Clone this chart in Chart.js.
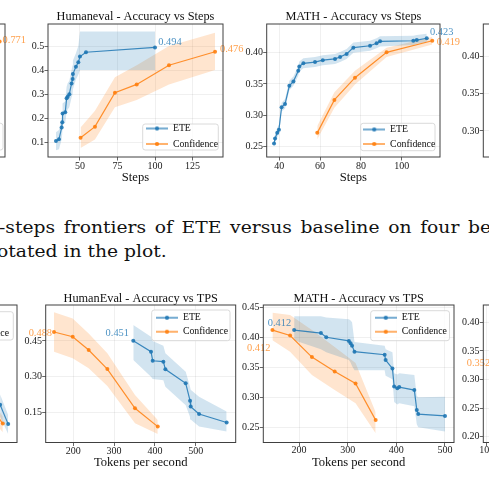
<!DOCTYPE html>
<html><head><meta charset="utf-8">
<script src="https://cdn.jsdelivr.net/npm/chart.js@4.4.1/dist/chart.umd.min.js"></script>
<style>
html,body{margin:0;padding:0;background:#fff;}
body{width:489px;height:490px;overflow:hidden;position:relative;}
canvas{position:absolute;}
.cap{position:absolute;left:0;font-family:'DejaVu Serif',serif;font-size:16px;line-height:16px;color:#111;white-space:nowrap;transform-origin:0 0;}
</style></head><body>
<div id="cap1" class="cap" style="left:-1px;top:219.8px">-steps frontiers of ETE versus baseline on four benchmarks</div>
<div id="cap2" class="cap" style="left:-3px;top:243.8px">otated in the plot.</div>
<script>
// ---------------- DATA ----------------
const seriesNames = ['ETE', 'Confidence'];

// Humaneval - Accuracy vs Steps
const heStepsTitle = 'Humaneval - Accuracy vs Steps';
const heStepsXTicks = [50, 75, 100, 125];
const heStepsYTicks = [0.1, 0.2, 0.3, 0.4, 0.5];
const heStepsEteX  = [34, 36, 37.8, 38.2, 38.4, 40.2, 41.1, 41.8, 42.9, 44.4, 45.1, 45.3, 47.3, 48.9, 50, 54, 100];
const heStepsEteY  = [0.104, 0.111, 0.160, 0.182, 0.219, 0.224, 0.282, 0.289, 0.299, 0.344, 0.362, 0.383, 0.414, 0.432, 0.456, 0.474, 0.494];
const heStepsEteLo = [0.066, 0.070, 0.110, 0.135, 0.170, 0.180, 0.225, 0.235, 0.245, 0.285, 0.300, 0.320, 0.360, 0.380, 0.400, 0.400, 0.400];
const heStepsEteHi = [0.140, 0.150, 0.200, 0.225, 0.260, 0.270, 0.330, 0.345, 0.355, 0.400, 0.420, 0.440, 0.470, 0.500, 0.560, 0.560, 0.560];
const heStepsConfX  = [50.4, 60, 73.3, 87.8, 109.3, 140];
const heStepsConfY  = [0.118, 0.164, 0.305, 0.340, 0.420, 0.476];
const heStepsConfLo = [0.075, 0.110, 0.245, 0.275, 0.340, 0.400];
const heStepsConfHi = [0.160, 0.230, 0.370, 0.420, 0.500, 0.555];

// MATH - Accuracy vs Steps
const mathStepsTitle = 'MATH - Accuracy vs Steps';
const mathStepsXTicks = [40, 60, 80, 100];
const mathStepsYTicks = [0.25, 0.30, 0.35, 0.40];
const mathStepsEteX  = [37.4, 37.9, 39.0, 39.8, 41.1, 42.8, 44.9, 46.9, 49.3, 49.8, 51.8, 57.5, 61.3, 67.3, 69.8, 73.0, 76.3, 84.5, 87.7, 89.4, 105.7, 107.4, 112.3];
const mathStepsEteY  = [0.255, 0.263, 0.272, 0.277, 0.313, 0.318, 0.347, 0.354, 0.371, 0.378, 0.383, 0.385, 0.388, 0.390, 0.393, 0.398, 0.408, 0.411, 0.415, 0.418, 0.419, 0.420, 0.423];
const mathStepsEteLo = [0.250, 0.257, 0.265, 0.270, 0.306, 0.311, 0.340, 0.347, 0.363, 0.370, 0.375, 0.377, 0.380, 0.382, 0.385, 0.390, 0.400, 0.403, 0.407, 0.410, 0.412, 0.414, 0.417];
const mathStepsEteHi = [0.261, 0.270, 0.280, 0.285, 0.320, 0.326, 0.355, 0.362, 0.379, 0.386, 0.391, 0.393, 0.396, 0.398, 0.401, 0.406, 0.416, 0.419, 0.423, 0.426, 0.427, 0.428, 0.430];
const mathStepsConfX  = [58.6, 67.0, 77.1, 92.6, 115.0];
const mathStepsConfY  = [0.272, 0.3245, 0.360, 0.4005, 0.419];
const mathStepsConfLo = [0.262, 0.312, 0.349, 0.393, 0.413];
const mathStepsConfHi = [0.283, 0.337, 0.371, 0.408, 0.425];

// HumanEval - Accuracy vs TPS
const heTpsTitle = 'HumanEval - Accuracy vs TPS';
const heTpsXTicks = [200, 300, 400, 500];
const heTpsYTicks = [0.15, 0.30, 0.45];
const heTpsEteX  = [347, 390.5, 394.6, 420.8, 425.7, 475.6, 486.2, 487.8, 508.3, 576];
const heTpsEteY  = [0.451, 0.405, 0.367, 0.363, 0.331, 0.272, 0.199, 0.174, 0.143, 0.107];
const heTpsEteLo = [0.370, 0.300, 0.290, 0.285, 0.258, 0.180, 0.130, 0.120, 0.090, 0.069];
const heTpsEteHi = [0.517, 0.468, 0.450, 0.430, 0.398, 0.321, 0.258, 0.245, 0.216, 0.153];
const heTpsConfX  = [152.6, 198.4, 237.6, 283.4, 351.2, 407];
const heTpsConfY  = [0.488, 0.468, 0.412, 0.332, 0.167, 0.090];
const heTpsConfLo = [0.405, 0.377, 0.335, 0.261, 0.104, 0.059];
const heTpsConfHi = [0.571, 0.545, 0.482, 0.398, 0.223, 0.118];

// MATH - Accuracy vs TPS
const mathTpsTitle = 'MATH - Accuracy vs TPS';
const mathTpsXTicks = [200, 300, 400, 500];
const mathTpsYTicks = [0.25, 0.30, 0.35, 0.40, 0.45];
const mathTpsEteX  = [190, 245, 256, 302.5, 306, 309, 314, 376, 378, 392, 395.5, 402, 406, 437, 442, 445, 500];
const mathTpsEteY  = [0.412, 0.407, 0.400, 0.394, 0.390, 0.386, 0.376, 0.371, 0.362, 0.348, 0.318, 0.315, 0.317, 0.312, 0.279, 0.272, 0.269];
const mathTpsEteLo = [0.395, 0.380, 0.375, 0.362, 0.358, 0.352, 0.345, 0.345, 0.336, 0.330, 0.292, 0.288, 0.290, 0.285, 0.255, 0.250, 0.243];
const mathTpsEteHi = [0.435, 0.435, 0.433, 0.430, 0.428, 0.425, 0.392, 0.386, 0.380, 0.375, 0.340, 0.338, 0.340, 0.337, 0.302, 0.300, 0.301];
const mathTpsConfX  = [145.4, 181.7, 226.5, 273.3, 316.2, 357.5];
const mathTpsConfY  = [0.412, 0.403, 0.367, 0.343, 0.323, 0.262];
const mathTpsConfLo = [0.395, 0.376, 0.337, 0.312, 0.290, 0.240];
const mathTpsConfHi = [0.441, 0.437, 0.412, 0.384, 0.357, 0.275];

// partly visible neighbouring panels (cut by the crop)
const leftStepsConfX = [146];
const leftStepsConfY = [0.771];
const leftTpsEteX  = [556, 577];
const leftTpsEteY  = [0.270, 0.157];
const leftTpsEteLo = [0.200, 0.100];
const leftTpsEteHi = [0.330, 0.210];
const leftTpsConfX  = [540, 563];
const leftTpsConfY  = [0.230, 0.160];
const leftTpsConfLo = [0.170, 0.110];
const leftTpsConfHi = [0.280, 0.200];
const rightStepsYTicks = [0.30, 0.35, 0.40];
const rightTpsXTicks = [100, 200, 300, 400, 500];
const rightTpsYTicks = [0.20, 0.25, 0.30, 0.35, 0.40];
const rightTpsConfX = [112];
const rightTpsConfY = [0.352];

// ---------------- STYLE / BUILD ----------------
const BLUE = '31,119,180', ORANGE = '255,127,14';
const FONT = "'Liberation Serif','Times New Roman',serif";
Chart.defaults.font.family = FONT;
Chart.defaults.color = '#222';
const TITLE_FS = 12.3, XL_FS = 12.6, TICK_FS = 10, LEG_FS = 9.8, LEG_BW = 22, ANN_FS = 10.4, TL = 3.5;

function legendImg(rgb) {
  const c = document.createElement('canvas'); c.width = LEG_BW; c.height = 6;
  const g = c.getContext('2d');
  g.strokeStyle = `rgba(${rgb},0.85)`; g.lineWidth = 1.3;
  g.beginPath(); g.moveTo(0, 3); g.lineTo(LEG_BW, 3); g.stroke();
  g.fillStyle = `rgba(${rgb},0.9)`; g.beginPath(); g.arc(LEG_BW / 2, 3, 2.1, 0, Math.PI * 2); g.fill();
  return c;
}
const legImgs = {ETE: legendImg(BLUE), Confidence: legendImg(ORANGE)};

const pts = (xs, ys) => xs.map((x, i) => ({x, y: ys[i]}));
function lineDs(label, rgb, data) {
  return {label, data, borderColor: `rgba(${rgb},0.85)`, backgroundColor: `rgba(${rgb},0.9)`,
    borderWidth: 1.2, pointRadius: 2, pointBorderWidth: 0, pointHoverRadius: 2, tension: 0, fill: false};
}
function bandDs(label, data, fill, rgb) {
  return {label, data, borderWidth: 0, pointRadius: 0, pointHoverRadius: 0, tension: 0, fill,
    borderColor: 'rgba(0,0,0,0)', backgroundColor: fill ? `rgba(${rgb},0.2)` : 'rgba(0,0,0,0)'};
}

function buildChart(cfg) {
  const b = cfg.box;
  const cl = Math.floor(b.l - 40);
  const padL = b.l - cl;
  const ct = Math.floor(cfg.title ? cfg.titleY - TITLE_FS / 2 - 1 : b.t - 20);
  const cbRaw = cfg.xlabel ? cfg.xlabelY + XL_FS / 2 + 1 : b.b + 24;
  const H = Math.ceil(cbRaw - ct);
  const W = Math.ceil(b.r - cl + 32);
  const padR = cl + W - b.r;
  const cb = ct + H;
  const padB = cb - b.b;
  const lpt = cfg.title ? (cfg.titleY - TITLE_FS / 2 - ct) : (b.t - ct);
  const titlePB = cfg.title ? (b.t - cfg.titleY - TITLE_FS / 2) : 0;

  const canvas = document.createElement('canvas');
  canvas.width = W; canvas.height = H;
  canvas.style.left = cl + 'px'; canvas.style.top = ct + 'px';
  canvas.style.width = W + 'px'; canvas.style.height = H + 'px';
  document.body.appendChild(canvas);

  const ser = {};
  const ds = [];
  if (cfg.ete) { ser.ETE = cfg.ete; ds.push(lineDs(seriesNames[0], BLUE, pts(cfg.ete.x, cfg.ete.y))); }
  if (cfg.conf) { ser.Confidence = cfg.conf; ds.push(lineDs(seriesNames[1], ORANGE, pts(cfg.conf.x, cfg.conf.y))); }
  if (cfg.ete && cfg.ete.lo) {
    ds.push(bandDs('band', pts(cfg.ete.x, cfg.ete.lo), false, BLUE));
    ds.push(bandDs('band', pts(cfg.ete.x, cfg.ete.hi), '-1', BLUE));
  }
  if (cfg.conf && cfg.conf.lo) {
    ds.push(bandDs('band', pts(cfg.conf.x, cfg.conf.lo), false, ORANGE));
    ds.push(bandDs('band', pts(cfg.conf.x, cfg.conf.hi), '-1', ORANGE));
  }

  const L = cfg.legend;
  const legPad = L ? (L.y1 - L.y0) - LEG_FS : 0;

  const grid = {color: 'rgba(0,0,0,0.075)', lineWidth: 0.8, tickColor: '#404040', tickLength: TL, tickWidth: 0.8, drawTicks: true};
  const axis = (ax, isX) => {
    const showTicks = !!ax.ticks;
    const o = {
      type: 'linear', min: ax.min, max: ax.max,
      border: {display: false},
      grid: showTicks ? grid : {display: false},
      ticks: {display: showTicks, autoSkip: false, maxRotation: 0, minRotation: 0,
        font: {size: TICK_FS}, color: '#222',
        padding: isX ? (cfg.xTickY ? cfg.xTickY - b.b - TL - TICK_FS * 0.6 : 0) : 0.3,
        callback: v => Number(v).toFixed(ax.dec || 0)},
      afterFit: s => { if (isX) s.height = padB; else s.width = padL; }
    };
    if (showTicks) o.afterBuildTicks = s => { s.ticks = ax.ticks.map(v => ({value: v})); };
    if (isX && cfg.xlabel) {
      o.title = {display: true, text: cfg.xlabel, color: '#111', font: {size: XL_FS, lineHeight: 1},
        padding: {top: 0, bottom: cb - cfg.xlabelY - XL_FS / 2}};
    }
    return o;
  };

  const overlay = {
    id: 'overlay',
    afterLayout(chart) {
      if (!L || !chart.legend) return;
      const lg = chart.legend;
      const left = L.xs - LEG_BW / 2 - legPad - cl;
      const top = L.y0 - LEG_FS / 2 - legPad - ct;
      lg.left = left; lg.top = top; lg.width = 200; lg.height = 200;
      lg.right = left + 200; lg.bottom = top + 200;
    },
    afterDraw(chart) {
      const ctx = chart.ctx, a = chart.chartArea;
      // value annotations
      ctx.save();
      ctx.font = `${ANN_FS}px ${FONT}`;
      ctx.textBaseline = 'middle';
      (cfg.annotations || []).forEach(an => {
        const s = ser[an.series];
        const i = an.index === 'last' ? s.x.length - 1 : 0;
        const px = chart.scales.x.getPixelForValue(s.x[i]);
        const py = chart.scales.y.getPixelForValue(s.y[i]);
        ctx.fillStyle = an.series === 'ETE' ? `rgba(${BLUE},0.8)` : `rgba(${ORANGE},0.75)`;
        ctx.textAlign = an.align;
        ctx.fillText(s.y[i].toFixed(3), px + an.dx, py + an.dy);
      });
      ctx.restore();
      // legend frame + legend on top
      if (L) {
        const f = L.frame;
        const x0 = f[0] - cl, y0 = f[1] - ct, w = f[2] - f[0], h = f[3] - f[1], r = 2.5;
        ctx.save();
        ctx.beginPath();
        ctx.moveTo(x0 + r, y0); ctx.lineTo(x0 + w - r, y0); ctx.arcTo(x0 + w, y0, x0 + w, y0 + r, r);
        ctx.lineTo(x0 + w, y0 + h - r); ctx.arcTo(x0 + w, y0 + h, x0 + w - r, y0 + h, r);
        ctx.lineTo(x0 + r, y0 + h); ctx.arcTo(x0, y0 + h, x0, y0 + h - r, r);
        ctx.lineTo(x0, y0 + r); ctx.arcTo(x0, y0, x0 + r, y0, r); ctx.closePath();
        ctx.fillStyle = 'rgba(255,255,255,0.8)'; ctx.fill();
        ctx.strokeStyle = '#d0d0d0'; ctx.lineWidth = 0.8; ctx.stroke();
        ctx.restore();
        chart.legend.draw();
      }
      // plot frame
      ctx.save();
      ctx.strokeStyle = '#404040'; ctx.lineWidth = 1;
      ctx.strokeRect(a.left, a.top, a.right - a.left, a.bottom - a.top);
      ctx.restore();
    }
  };

  new Chart(canvas, {
    type: 'line',
    data: {datasets: ds},
    options: {
      responsive: false, animation: false, events: [],
      layout: {padding: {left: 0, right: padR, top: lpt, bottom: 0}},
      plugins: {
        tooltip: {enabled: false},
        title: cfg.title ? {display: true, text: cfg.title, fullSize: false, color: '#111',
          font: {size: TITLE_FS, lineHeight: 1, weight: 'normal'}, padding: {top: 0, bottom: titlePB}} : {display: false},
        legend: L ? {
          display: true, position: 'chartArea', fullSize: false, align: 'start',
          labels: {
            usePointStyle: true, pointStyleWidth: LEG_BW, boxHeight: 6, padding: legPad,
            font: {size: LEG_FS}, color: '#222',
            filter: it => seriesNames.includes(it.text),
            generateLabels: ch => {
              const items = Chart.defaults.plugins.legend.labels.generateLabels(ch);
              items.forEach(it => { if (legImgs[it.text]) it.pointStyle = legImgs[it.text]; });
              return items;
            }
          }
        } : {display: false}
      },
      scales: {x: axis(cfg.x, true), y: axis(cfg.y, false)}
    },
    plugins: [overlay]
  });
}

// ---------------- PANELS ----------------
buildChart({
  box: {l: 48, r: 223, t: 24, b: 157},
  x: {min: 28.7, max: 145.3, ticks: heStepsXTicks, dec: 0},
  y: {min: 0.0375, max: 0.5917, ticks: heStepsYTicks, dec: 1},
  title: heStepsTitle, titleY: 16.6, xlabel: 'Steps', xlabelY: 178, xTickY: 166.6,
  ete: {x: heStepsEteX, y: heStepsEteY, lo: heStepsEteLo, hi: heStepsEteHi},
  conf: {x: heStepsConfX, y: heStepsConfY, lo: heStepsConfLo, hi: heStepsConfHi},
  legend: {frame: [142.7, 124, 218.3, 150], xs: 157, y0: 128.5, y1: 144},
  annotations: [{series: 'ETE', index: 'last', align: 'left', dx: 3.3, dy: -5.4},
                {series: 'Confidence', index: 'last', align: 'left', dx: 5, dy: -2.8}]
});
buildChart({
  box: {l: 266.7, r: 440, t: 24, b: 157},
  x: {min: 33.8, max: 118.8, ticks: mathStepsXTicks, dec: 0},
  y: {min: 0.2335, max: 0.4457, ticks: mathStepsYTicks, dec: 2},
  title: mathStepsTitle, titleY: 16.6, xlabel: 'Steps', xlabelY: 178, xTickY: 166.6,
  ete: {x: mathStepsEteX, y: mathStepsEteY, lo: mathStepsEteLo, hi: mathStepsEteHi},
  conf: {x: mathStepsConfX, y: mathStepsConfY, lo: mathStepsConfLo, hi: mathStepsConfHi},
  legend: {frame: [360.7, 123.3, 435, 150.7], xs: 374.2, y0: 129.5, y1: 144},
  annotations: [{series: 'ETE', index: 'last', align: 'left', dx: 3.2, dy: -6},
                {series: 'Confidence', index: 'last', align: 'left', dx: 4.4, dy: 1.5}]
});
buildChart({
  box: {l: 45.7, r: 235.7, t: 305, b: 442.5},
  x: {min: 132.2, max: 598.2, ticks: heTpsXTicks, dec: 0},
  y: {min: 0.0231, max: 0.6014, ticks: heTpsYTicks, dec: 2},
  title: heTpsTitle, titleY: 299.1, xlabel: 'Tokens per second', xlabelY: 462.3, xTickY: 451,
  ete: {x: heTpsEteX, y: heTpsEteY, lo: heTpsEteLo, hi: heTpsEteHi},
  conf: {x: heTpsConfX, y: heTpsConfY, lo: heTpsConfLo, hi: heTpsConfHi},
  legend: {frame: [151.7, 310, 230, 340.7], xs: 167, y0: 317.7, y1: 331.7},
  annotations: [{series: 'Confidence', index: 'first', align: 'right', dx: -2, dy: 1.3},
                {series: 'ETE', index: 'first', align: 'right', dx: -4.3, dy: -7.5}]
});
buildChart({
  box: {l: 263.3, r: 454, t: 305, b: 442.5},
  x: {min: 126.6, max: 518.5, ticks: mathTpsXTicks, dec: 0},
  y: {min: 0.2247, max: 0.4538, ticks: mathTpsYTicks, dec: 2},
  title: mathTpsTitle, titleY: 299, xlabel: 'Tokens per second', xlabelY: 462.3, xTickY: 450.5,
  ete: {x: mathTpsEteX, y: mathTpsEteY, lo: mathTpsEteLo, hi: mathTpsEteHi},
  conf: {x: mathTpsConfX, y: mathTpsConfY, lo: mathTpsConfLo, hi: mathTpsConfHi},
  legend: {frame: [370.7, 310.7, 449.5, 340.7], xs: 385.8, y0: 317.7, y1: 331.7},
  annotations: [{series: 'ETE', index: 'first', align: 'right', dx: -3, dy: -6.7},
                {series: 'Confidence', index: 'first', align: 'right', dx: -2, dy: 18}]
});
// cut-off neighbours
buildChart({
  box: {l: -170, r: 5, t: 24, b: 157},
  x: {min: 20, max: 150}, y: {min: 0.45, max: 0.82},
  ete: {x: [], y: []},
  conf: {x: leftStepsConfX, y: leftStepsConfY},
  legend: {frame: [-72.6, 123.3, 3, 150], xs: -64, y0: 128.5, y1: 144},
  annotations: [{series: 'Confidence', index: 'last', align: 'left', dx: 3, dy: -1.5}]
});
buildChart({
  box: {l: -175, r: 17, t: 305, b: 442.5},
  x: {min: 100, max: 600}, y: {min: 0.05, max: 0.85},
  ete: {x: leftTpsEteX, y: leftTpsEteY, lo: leftTpsEteLo, hi: leftTpsEteHi},
  conf: {x: leftTpsConfX, y: leftTpsConfY, lo: leftTpsConfLo, hi: leftTpsConfHi},
  legend: {frame: [-65, 311.7, 13.3, 340], xs: -52, y0: 319.3, y1: 333.3}
});
buildChart({
  box: {l: 483.3, r: 658.3, t: 24, b: 157},
  x: {min: 30, max: 120},
  y: {min: 0.2653, max: 0.4427, ticks: rightStepsYTicks, dec: 2}
});
buildChart({
  box: {l: 483.3, r: 673.3, t: 305, b: 442.5},
  x: {min: 92, max: 520, ticks: rightTpsXTicks, dec: 0}, xTickY: 450,
  y: {min: 0.1899, max: 0.4302, ticks: rightTpsYTicks, dec: 2},
  conf: {x: rightTpsConfX, y: rightTpsConfY},
  annotations: [{series: 'Confidence', index: 'first', align: 'right', dx: -2, dy: 14}]
});

// caption: widen glyphs to the reference face, then justify line 1 with word spacing
(function () {
  const mk = t => { const p = document.createElement('span'); p.className = 'cap'; p.style.visibility = 'hidden'; p.textContent = t; document.body.appendChild(p); const w = p.getBoundingClientRect().width; p.remove(); return w; };
  const w2 = mk('otated in the plot.');
  const s = 169.7 / w2;
  const txt = '-steps frontiers of ETE versus baseline on four b';
  const w1 = mk(txt);
  const spaces = txt.split(' ').length - 1;
  const ws = (481 / s - w1) / spaces;
  const c1 = document.getElementById('cap1'), c2 = document.getElementById('cap2');
  c1.style.transform = `scaleX(${s})`; c2.style.transform = `scaleX(${s})`;
  c1.style.wordSpacing = Math.max(ws, 0) + 'px';
})();
</script>
</body></html>
